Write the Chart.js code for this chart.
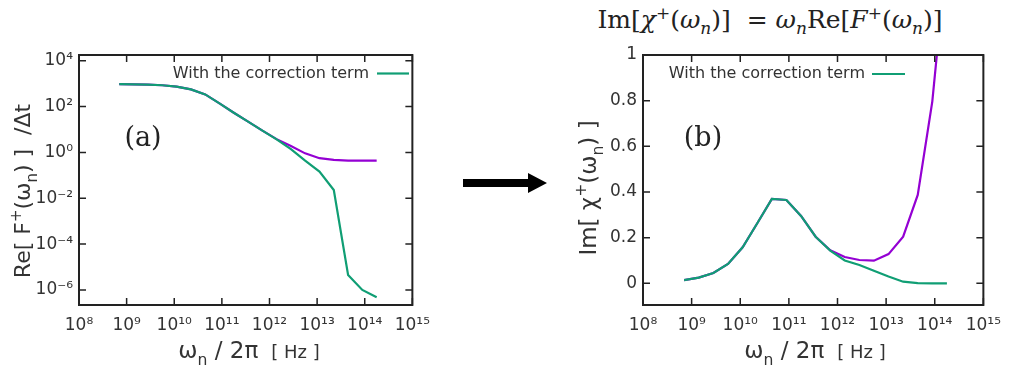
<!DOCTYPE html>
<html lang="en">
<head>
<meta charset="utf-8">
<title>Re F+ / Im chi+</title>
<script src="https://cdn.jsdelivr.net/npm/chart.js@4.4.1/dist/chart.umd.min.js"></script>
<style>
  html, body { margin: 0; padding: 0; background: #fff; }
  #wrap { position: relative; width: 1011px; height: 377px; overflow: hidden; }
  canvas { position: absolute; top: 0; }
  #chartA { left: 0; }
  #chartB { left: 560px; }
  .tag { position: absolute; font-family: "DejaVu Serif", serif; font-size: 27px; color: #222;
         transform: translate(-50%, -50%); white-space: nowrap; }
  #formula { position: absolute; left: 770px; top: 7px; transform: translateX(-50%);
             font-family: "DejaVu Serif", serif; font-size: 25px; line-height: 1; color: #222; white-space: nowrap; }
  #formula sup, #formula sub { font-size: 0.68em; line-height: 0; }
  #arrow { position: absolute; left: 460px; top: 170px; }
</style>
</head>
<body>
<div id="wrap">
  <div id="formula">Im[<i>χ</i><sup>+</sup>(<i>ω<sub>n</sub></i>)] &nbsp;= <i>ω<sub>n</sub></i>Re[<i>F</i><sup>+</sup>(<i>ω<sub>n</sub></i>)]</div>
  <canvas id="chartA" width="440" height="377"></canvas>
  <canvas id="chartB" width="451" height="377"></canvas>
  <div class="tag" style="left:143px; top:136px">(a)</div>
  <div class="tag" style="left:703px; top:136px">(b)</div>
  <svg id="arrow" width="90" height="26"><polygon points="3,9 68,9 68,3 87,13 68,23 68,17 3,17" fill="#000"/></svg>
</div>
<script>
// ===========================
// DATOS
// ===========================
const FREQ_HZ = [7.0e8, 1.4e9, 2.8e9, 5.6e9, 1.12e10, 2.24e10, 4.47e10, 8.9e10, 1.78e11, 3.55e11,
                 7.1e11, 1.41e12, 2.82e12, 5.6e12, 1.12e13, 2.24e13, 4.47e13, 8.9e13, 1.78e14];

// panel (a): Re[F+(w)] / dt
const RE_F_CORRECTED = [955, 933, 905, 851, 740, 562, 340, 138, 54, 22,
                        8.9, 3.7, 1.4, 0.44, 0.145, 0.023, 4.5e-6, 1.0e-6, 4.8e-7];
const RE_F_PLAIN     = [955, 933, 905, 851, 740, 562, 340, 138, 54, 22,
                        8.9, 3.8, 1.9, 0.91, 0.56, 0.47, 0.44, 0.437, 0.437];

// panel (b): Im[chi+(w)]
const IM_CHI_CORRECTED = [0.014, 0.025, 0.045, 0.085, 0.158, 0.263, 0.37, 0.365, 0.295, 0.204,
                          0.143, 0.10, 0.08, 0.055, 0.03, 0.007, 0.001, 0.0, 0.0];
const IM_CHI_PLAIN     = [0.014, 0.025, 0.045, 0.085, 0.158, 0.263, 0.37, 0.365, 0.295, 0.204,
                          0.145, 0.115, 0.102, 0.099, 0.128, 0.204, 0.387, 0.796, 1.45];

const X_TICKS = [1e8, 1e9, 1e10, 1e11, 1e12, 1e13, 1e14, 1e15];
const X_TICK_LABELS = ['10⁸', '10⁹', '10¹⁰', '10¹¹', '10¹²', '10¹³', '10¹⁴', '10¹⁵'];
const Y_TICKS_A = [1e-6, 1e-4, 1e-2, 1, 1e2, 1e4];
const Y_TICK_LABELS_A = ['10⁻⁶', '10⁻⁴', '10⁻²', '10⁰', '10²', '10⁴'];
const Y_TICKS_B = [0, 0.2, 0.4, 0.6, 0.8, 1];
const Y_TICK_LABELS_B = ['0', '0.2', '0.4', '0.6', '0.8', '1'];

const KEY_LABEL = 'With the correction term';
// títulos de ejes por trozos: [texto, tipo] (tipo: '', 'sub', 'sup', 'small')
const X_TITLE = [['ω', ''], ['n', 'sub'], [' / 2π ', ''], [' [ Hz ]', 'small']];
const Y_TITLE_A = [['Re[ F', ''], ['+', 'sup'], ['(ω', ''], ['n', 'sub'], [') ]  /Δt', '']];
const Y_TITLE_B = [['Im[ χ', ''], ['+', 'sup'], ['(ω', ''], ['n', 'sub'], [') ]', '']];

const CONFIG = {
    GREEN: '#109e74',
    PURPLE: '#9400d3',
    INK: '#333',
    FONT: '"DejaVu Sans", sans-serif',
    TICK_LEN: 7
};

// ===========================
// PLUGINS
// ===========================
// marco completo + marcas de tick hacia dentro en los 4 lados (estilo gnuplot)
const frameTicks = {
    id: 'frameTicks',
    afterDatasetsDraw(chart) {
        const { ctx, chartArea: a } = chart;
        const { x, y } = chart.scales;
        const L = CONFIG.TICK_LEN;
        ctx.save();
        ctx.strokeStyle = '#222';
        ctx.lineWidth = 1.5;
        ctx.beginPath();
        x.ticks.forEach(t => {
            const px = x.getPixelForValue(t.value);
            ctx.moveTo(px, a.bottom); ctx.lineTo(px, a.bottom - L);
            ctx.moveTo(px, a.top); ctx.lineTo(px, a.top + L);
        });
        y.ticks.forEach(t => {
            const py = y.getPixelForValue(t.value);
            ctx.moveTo(a.left, py); ctx.lineTo(a.left + L, py);
            ctx.moveTo(a.right, py); ctx.lineTo(a.right - L, py);
        });
        ctx.stroke();
        ctx.lineWidth = 2;
        ctx.strokeRect(a.left, a.top, a.right - a.left, a.bottom - a.top);
        ctx.restore();
    }
};

// leyenda tipo gnuplot: texto y después la muestra de línea
const keyPlugin = {
    id: 'key',
    afterDatasetsDraw(chart, args, opts) {
        const ctx = chart.ctx;
        ctx.save();
        ctx.font = '16px ' + CONFIG.FONT;
        ctx.fillStyle = CONFIG.INK;
        ctx.textAlign = 'right';
        ctx.textBaseline = 'middle';
        ctx.fillText(opts.text, opts.textRight, opts.y);
        ctx.strokeStyle = opts.color;
        ctx.lineWidth = 2.2;
        ctx.beginPath();
        ctx.moveTo(opts.lineFrom, opts.y);
        ctx.lineTo(opts.lineTo, opts.y);
        ctx.stroke();
        ctx.restore();
    }
};

// títulos con subíndices/superíndices reales
function partStyle(kind, size) {
    if (kind === 'sub') return { size: size * 0.68, dy: size * 0.3 };
    if (kind === 'sup') return { size: size * 0.68, dy: -size * 0.42 };
    if (kind === 'small') return { size: size * 0.78, dy: 0 };
    return { size, dy: 0 };
}

function titlesPlugin(items) {
    return {
        id: 'richTitles',
        afterDraw(chart) {
            const ctx = chart.ctx;
            items.forEach(item => {
                ctx.save();
                ctx.translate(item.x, item.y);
                ctx.rotate(item.angle || 0);
                ctx.fillStyle = CONFIG.INK;
                ctx.textAlign = 'left';
                ctx.textBaseline = 'alphabetic';
                let width = 0;
                item.parts.forEach(([txt, kind]) => {
                    ctx.font = partStyle(kind, item.size).size + 'px ' + CONFIG.FONT;
                    width += ctx.measureText(txt).width;
                });
                let cx = -width / 2;
                item.parts.forEach(([txt, kind]) => {
                    const st = partStyle(kind, item.size);
                    ctx.font = st.size + 'px ' + CONFIG.FONT;
                    ctx.fillText(txt, cx, st.dy);
                    cx += ctx.measureText(txt).width;
                });
                ctx.restore();
            });
        }
    };
}

// ===========================
// GRÁFICOS
// ===========================
function series(values) {
    return FREQ_HZ.map((f, i) => ({ x: f, y: values[i] }));
}

function makePanel(canvasId, p) {
    const tickFont = { family: CONFIG.FONT, size: 17 };
    return new Chart(document.getElementById(canvasId), {
        type: 'line',
        data: {
            datasets: [
                { label: KEY_LABEL, data: series(p.green), borderColor: CONFIG.GREEN },
                { label: 'plain', data: series(p.purple), borderColor: CONFIG.PURPLE }
            ]
        },
        options: {
            responsive: false,
            animation: false,
            events: [],
            datasets: { line: { borderWidth: 2.2, pointRadius: 0, tension: 0, fill: false } },
            layout: { padding: { top: 55, right: p.padRight, left: 0, bottom: 0 } },
            plugins: {
                legend: { display: false },
                tooltip: { enabled: false },
                key: p.key
            },
            scales: {
                x: {
                    type: 'logarithmic',
                    min: 1e8,
                    max: 1e15,
                    grid: { display: false, drawTicks: false },
                    border: { display: false },
                    afterBuildTicks: s => { s.ticks = X_TICKS.map(v => ({ value: v })); },
                    afterFit: s => { s.height = 72; },
                    ticks: {
                        autoSkip: false, maxRotation: 0, padding: 10, color: CONFIG.INK, font: tickFont,
                        callback: (v, i) => X_TICK_LABELS[i]
                    }
                },
                y: {
                    type: p.yType,
                    min: p.yMin,
                    max: p.yMax,
                    grid: { display: false, drawTicks: false },
                    border: { display: false },
                    afterBuildTicks: s => { s.ticks = p.yTicks.map(v => ({ value: v })); },
                    afterFit: s => { s.width = p.yWidth; },
                    ticks: {
                        autoSkip: false, padding: 6, color: CONFIG.INK, font: tickFont,
                        callback: (v, i) => p.yLabels[i]
                    }
                }
            }
        },
        plugins: [frameTicks, keyPlugin, titlesPlugin(p.titles)]
    });
}

makePanel('chartA', {
    green: RE_F_CORRECTED,
    purple: RE_F_PLAIN,
    yType: 'logarithmic',
    yMin: 2.2e-7,
    yMax: 1.78e4,
    yTicks: Y_TICKS_A,
    yLabels: Y_TICK_LABELS_A,
    yWidth: 79,
    padRight: 15,
    key: { text: KEY_LABEL, textRight: 369, lineFrom: 377, lineTo: 409, y: 73.5, color: CONFIG.GREEN },
    titles: [
        { parts: X_TITLE, x: 249, y: 358, size: 23 },
        { parts: Y_TITLE_A, x: 30, y: 191, size: 22, angle: -Math.PI / 2 }
    ]
});

makePanel('chartB', {
    green: IM_CHI_CORRECTED,
    purple: IM_CHI_PLAIN,
    yType: 'linear',
    yMin: -0.095,
    yMax: 1,
    yTicks: Y_TICKS_B,
    yLabels: Y_TICK_LABELS_B,
    yWidth: 83,
    padRight: 21,
    key: { text: KEY_LABEL, textRight: 305, lineFrom: 312, lineTo: 345, y: 74, color: CONFIG.GREEN },
    titles: [
        { parts: X_TITLE, x: 255, y: 358, size: 23 },
        { parts: Y_TITLE_B, x: 36, y: 188, size: 23, angle: -Math.PI / 2 }
    ]
});
</script>
</body>
</html>
